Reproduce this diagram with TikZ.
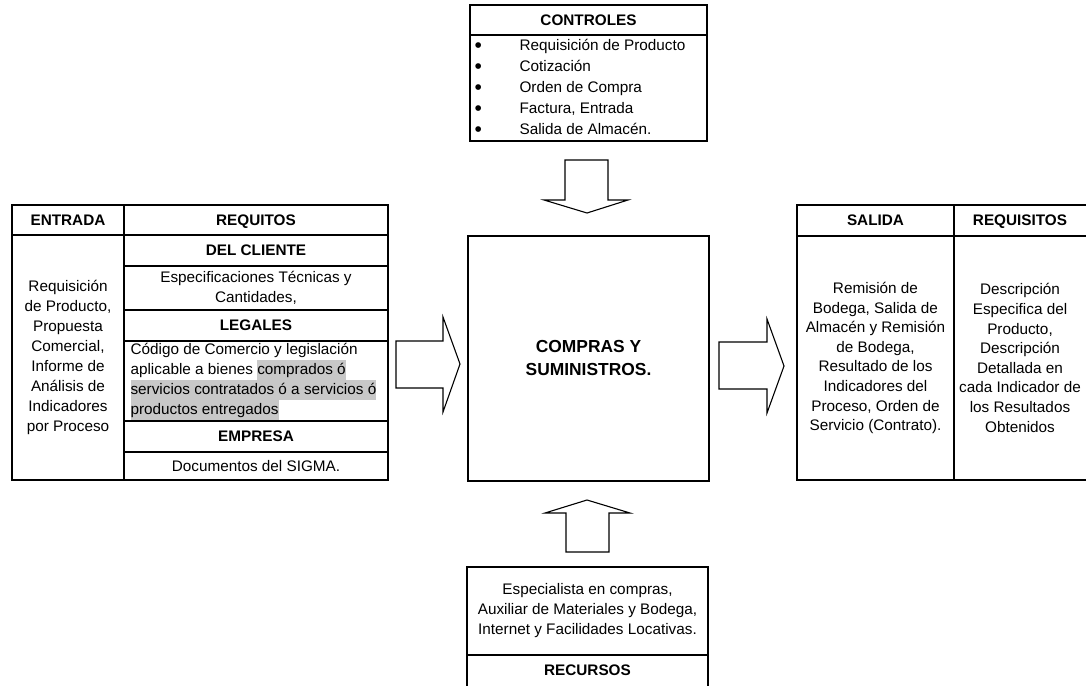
\documentclass[tikz,border=0pt]{standalone}
\usepackage{fontspec}
\setmainfont{Liberation Sans}
\definecolor{hlgray}{HTML}{C8C8C8}
\newcommand{\hlmark}[1]{{\setlength{\fboxsep}{0pt}\colorbox{hlgray}{\strut #1}}}
\newcommand{\dotitem}{\makebox[45pt][l]{\raisebox{-2.5pt}{\fontsize{21}{21}\selectfont\textbullet}}}
\begin{document}
\begin{tikzpicture}[x=1pt,y=-1pt,line width=1.1pt,
  cell/.style={draw,anchor=north west,inner sep=0pt,outer sep=0pt},
  txt/.style={font=\fontsize{15.3}{20}\selectfont,align=center},
  hdr/.style={font=\bfseries\fontsize{15.3}{20}\selectfont,text depth=0pt},
  blockarrow/.style={draw,fill=white,line join=miter}]
\useasboundingbox (0,0) rectangle (1086,685);

% ---------- CONTROLES ----------
\node[cell,minimum width=237pt,minimum height=30pt,hdr] (ctlH) at (470,5) {CONTROLES};
\node[cell,minimum width=237pt,minimum height=106pt] (ctlB) at (470,35) {};
\node[anchor=west,inner sep=0pt,align=left,font=\fontsize{15.3}{21}\selectfont] (ctlList) at (474,88)
  {\dotitem Requisición de Producto\\
   \dotitem Cotización\\
   \dotitem Orden de Compra\\
   \dotitem Factura, Entrada\\
   \dotitem Salida de Almacén.};

% ---------- ENTRADA / REQUITOS ----------
\node[cell,minimum width=112pt,minimum height=30pt,hdr] (entH) at (12,205) {ENTRADA};
\node[cell,minimum width=264pt,minimum height=30pt,hdr] (reqH) at (124,205) {REQUITOS};
\node[cell,minimum width=112pt,minimum height=245pt,txt] (entB) at (12,235)
  {Requisición\\de Producto,\\Propuesta\\Comercial,\\Informe de\\Análisis de\\Indicadores\\por Proceso};
\node[cell,minimum width=264pt,minimum height=31pt,hdr] (cli) at (124,235) {DEL CLIENTE};
\node[cell,minimum width=264pt,minimum height=44pt,txt] (esp) at (124,266) {Especificaciones Técnicas y\\Cantidades,};
\node[cell,minimum width=264pt,minimum height=31pt,hdr] (leg) at (124,310) {LEGALES};
\node[cell,minimum width=264pt,minimum height=80pt] (cod) at (124,341) {};
\node[anchor=west,inner sep=0pt,align=left,font=\fontsize{15.3}{20}\selectfont] (codTxt) at (130,381.5)
  {Código de Comercio y legislación\\
   aplicable a bienes \hlmark{comprados ó}\\
   \hlmark{servicios contratados ó a servicios ó}\\
   \hlmark{productos entregados}};
\node[cell,minimum width=264pt,minimum height=31pt,hdr] (emp) at (124,421) {EMPRESA};
\node[cell,minimum width=264pt,minimum height=28pt,txt] (doc) at (124,452) {Documentos del SIGMA.};

% ---------- PROCESO ----------
\node[cell,minimum width=241pt,minimum height=245pt,align=center,
      font=\bfseries\fontsize{17.4}{23}\selectfont] (proc) at (468,236) {COMPRAS Y\\SUMINISTROS.};

% ---------- SALIDA / REQUISITOS ----------
\node[cell,minimum width=157pt,minimum height=31pt,hdr] (salH) at (797,205) {SALIDA};
\node[cell,minimum width=136pt,minimum height=31pt] (rqH) at (954,205) {};
\node[hdr] (rqHt) at (1020,220.5) {REQUISITOS};
\node[cell,minimum width=157pt,minimum height=244pt,font=\fontsize{15.3}{19.6}\selectfont,align=center] (salB) at (797,236)
  {Remisión de\\Bodega, Salida de\\Almacén y Remisión\\de Bodega,\\Resultado de los\\Indicadores del\\Proceso, Orden de\\Servicio (Contrato).};
\node[cell,minimum width=136pt,minimum height=244pt] (rqB) at (954,236) {};
\node[font=\fontsize{15.3}{19.6}\selectfont,align=center] (rqBt) at (1020,358)
  {Descripción\\Especifica del\\Producto,\\Descripción\\Detallada en\\cada Indicador de\\los Resultados\\Obtenidos};

% ---------- RECURSOS ----------
\node[cell,minimum width=241pt,minimum height=88pt,txt] (recB) at (467,567)
  {Especialista en compras,\\Auxiliar de Materiales y Bodega,\\Internet y Facilidades Locativas.};
\node[cell,minimum width=241pt,minimum height=45pt] (recH) at (467,655) {};
\node[hdr] (recHt) at (587.5,670) {RECURSOS};

% ---------- flechas de bloque ----------
\draw[blockarrow] (565,160) -- (608,160) -- (608,200) -- (628,200) -- (587,213)
  -- (544,200) -- (565,200) -- cycle;
\draw[blockarrow] (396,341) -- (443,341) -- (443,317) -- (460,364) -- (443,412)
  -- (443,388) -- (396,388) -- cycle;
\draw[blockarrow] (719,342) -- (767,342) -- (767,319) -- (784,366) -- (767,413)
  -- (767,389) -- (719,389) -- cycle;
\draw[blockarrow] (566,552) -- (566,513) -- (545,513) -- (587,500) -- (630,513)
  -- (609,513) -- (609,552) -- cycle;
\end{tikzpicture}
\end{document}
